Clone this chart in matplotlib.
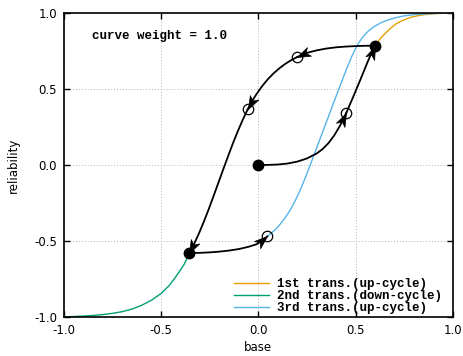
import numpy as np
import matplotlib
matplotlib.use("Agg")
import matplotlib.pyplot as plt
from matplotlib.path import Path
from matplotlib.markers import MarkerStyle
from matplotlib.transforms import Affine2D

# black hysteresis path, split into arrow segments
seg1_x = [0.0, 0.05, 0.1, 0.15, 0.2, 0.25, 0.3, 0.33, 0.36, 0.39, 0.42, 0.452]
seg1_y = [0.0, 0.0005, 0.003, 0.0095, 0.022, 0.043, 0.0755, 0.104, 0.143, 0.194, 0.2585, 0.342]
seg2_x = [0.452, 0.49, 0.525, 0.56, 0.598]
seg2_y = [0.342, 0.455, 0.562, 0.672, 0.785]
seg3_x = [0.598, 0.55, 0.5, 0.45, 0.4, 0.35, 0.3, 0.26, 0.23, 0.2]
seg3_y = [0.785, 0.784, 0.782, 0.779, 0.774, 0.766, 0.754, 0.741, 0.728, 0.71]
seg4_x = [0.2, 0.17, 0.14, 0.11, 0.08, 0.05, 0.02, -0.01, -0.035, -0.055]
seg4_y = [0.71, 0.6905, 0.6665, 0.638, 0.605, 0.566, 0.5195, 0.4655, 0.4143, 0.365]
seg5_x = [-0.055, -0.08, -0.105, -0.13, -0.155, -0.18, -0.205, -0.23, -0.255, -0.28,
          -0.305, -0.33, -0.355]
seg5_y = [0.365, 0.298, 0.224, 0.145, 0.06, -0.027, -0.115, -0.203, -0.29, -0.372,
          -0.449, -0.518, -0.58]
seg6_x = [-0.355, -0.3, -0.25, -0.2, -0.15, -0.1, -0.05, -0.01, 0.02, 0.046]
seg6_y = [-0.58, -0.578, -0.575, -0.57, -0.563, -0.553, -0.538, -0.522, -0.499, -0.47]

# coloured transition curves
up1_x = [0.598, 0.62, 0.64, 0.66, 0.68, 0.71, 0.74, 0.78, 0.82, 0.86, 0.9, 0.95, 1.0]
up1_y = [0.785, 0.82, 0.85, 0.875, 0.9, 0.93, 0.95, 0.97, 0.982, 0.99, 0.995, 0.998, 1.0]
down2_x = [-0.355, -0.38, -0.4, -0.43, -0.46, -0.5, -0.55, -0.6, -0.65, -0.7, -0.75,
           -0.8, -0.85, -0.9, -0.95, -1.0]
down2_y = [-0.58, -0.65, -0.69, -0.745, -0.795, -0.845, -0.89, -0.923, -0.948, -0.965,
           -0.976, -0.984, -0.99, -0.994, -0.997, -1.0]
up3_x = [0.046, 0.07, 0.09, 0.11, 0.13, 0.15, 0.17, 0.19, 0.21, 0.23, 0.25, 0.27, 0.3,
         0.35, 0.4, 0.45, 0.48, 0.5, 0.52, 0.54, 0.56, 0.58, 0.6, 0.63, 0.66, 0.7, 0.75,
         0.8, 0.86, 0.93, 1.0]
up3_y = [-0.47, -0.445, -0.421, -0.393, -0.361, -0.324, -0.282, -0.234, -0.18, -0.12,
         -0.056, 0.011, 0.113, 0.283, 0.453, 0.62, 0.713, 0.767, 0.811, 0.846, 0.874,
         0.896, 0.914, 0.935, 0.951, 0.967, 0.981, 0.989, 0.994, 0.998, 1.0]

filled_x = [0.0, 0.598, -0.355]
filled_y = [0.0, 0.785, -0.58]
open_x = [0.452, 0.2, -0.055, 0.046]
open_y = [0.342, 0.71, 0.365, -0.47]

labels = ["1st trans.(up-cycle)", "2nd trans.(down-cycle)", "3rd trans.(up-cycle)"]
colors = ["#e69f00", "#009e73", "#56b4e9"]

fig = plt.figure(figsize=(4.63, 3.56), dpi=100)
ax = fig.add_axes([0.138, 0.1096, 0.840, 0.854])
ax.set_xlim(-1, 1)
ax.set_ylim(-1, 1)

ax.plot(up1_x, up1_y, color=colors[0], lw=1.0, label=labels[0], zorder=2)
ax.plot(down2_x, down2_y, color=colors[1], lw=1.0, label=labels[1], zorder=2)
ax.plot(up3_x, up3_y, color=colors[2], lw=1.0, label=labels[2], zorder=2)

segs = [(seg1_x, seg1_y), (seg2_x, seg2_y), (seg3_x, seg3_y),
        (seg4_x, seg4_y), (seg5_x, seg5_y), (seg6_x, seg6_y)]
for sx, sy in segs:
    ax.plot(sx, sy, color="black", lw=1.3, zorder=3)

ax.plot(filled_x, filled_y, "o", color="black", ms=7.5, zorder=4)
ax.plot(open_x, open_y, "o", mfc="none", mec="black", mew=0.9, ms=7.5, zorder=4)

# gnuplot-like notched arrow heads, tip at the end of each segment
head = Path([(0, 0), (-1, 0.36), (-0.72, 0), (-1, -0.36), (0, 0)],
            [Path.MOVETO, Path.LINETO, Path.LINETO, Path.LINETO, Path.CLOSEPOLY])
for sx, sy in segs:
    p0 = ax.transData.transform((sx[-2], sy[-2]))
    p1 = ax.transData.transform((sx[-1], sy[-1]))
    ang = np.degrees(np.arctan2(p1[1] - p0[1], p1[0] - p0[0]))
    m = MarkerStyle(head, transform=Affine2D().rotate_deg(ang))
    ax.plot(sx[-1], sy[-1], marker=m, ms=19, color="black", mew=0.5, zorder=5)

ax.text(-0.853, 0.85, "curve weight = 1.0", family="Liberation Mono",
        weight="bold", fontsize=9, va="center")

ax.set_xticks([-1.0, -0.5, 0.0, 0.5, 1.0])
ax.set_yticks([-1.0, -0.5, 0.0, 0.5, 1.0])
ax.set_xticklabels(["-1.0", "-0.5", "0.0", "0.5", "1.0"])
ax.set_yticklabels(["-1.0", "-0.5", "0.0", "0.5", "1.0"])
ax.tick_params(direction="in", top=True, right=True, length=4, width=1,
               labelsize=8.5, pad=5)
ax.grid(True, color="#b5b5b5", ls=(0, (1, 2)), lw=0.7)
for s in ax.spines.values():
    s.set_linewidth(1.2)

ax.set_xlabel("base", fontsize=8.5, labelpad=3)
ax.set_ylabel("reliability", fontsize=8.5, labelpad=10)

ax.legend(loc="lower right", bbox_to_anchor=(0.988, -0.012), frameon=False,
          handlelength=2.8, prop=dict(family="Liberation Mono", weight="bold", size=9),
          labelspacing=0.0, handletextpad=0.6, borderaxespad=0.1)

plt.savefig("out.png", dpi=100)
